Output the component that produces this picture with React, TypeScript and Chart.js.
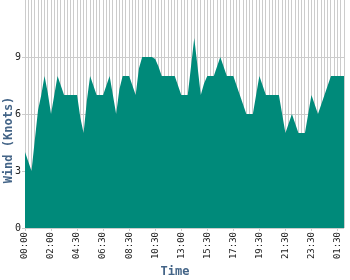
import React, { useEffect, useRef } from 'react';
import { Chart, registerables } from 'chart.js';

Chart.register(...registerables);

const timeLabels: string[] = [
  '00:00', '00:15', '00:30', '00:45', '01:00', '01:15', '01:30', '01:45',
  '02:00', '02:20', '02:40', '03:00', '03:20', '03:40', '04:00', '04:15',
  '04:30', '04:45', '05:00', '05:15', '05:30', '05:45', '06:00', '06:15',
  '06:30', '06:45', '07:00', '07:15', '07:30', '07:45', '08:00', '08:15',
  '08:30', '08:45', '09:00', '09:15', '09:30', '09:45', '10:00', '10:15',
  '10:30', '10:50', '11:10', '11:30', '11:50', '12:10', '12:30', '12:45',
  '13:00', '13:20', '13:40', '14:00', '14:20', '14:40', '15:00', '15:15',
  '15:30', '15:45', '16:00', '16:15', '16:30', '16:45', '17:00', '17:15',
  '17:30', '17:45', '18:00', '18:15', '18:30', '18:45', '19:00', '19:15',
  '19:30', '19:45', '20:00', '20:15', '20:30', '20:45', '21:00', '21:15',
  '21:30', '21:45', '22:00', '22:15', '22:30', '22:45', '23:00', '23:15',
  '23:30', '23:45', '00:00', '00:15', '00:30', '00:45', '01:00', '01:15',
  '01:30', '01:45', '02:00',
];

const windKnots: number[] = [
  4, 3.5, 3, 4.6, 6.2, 7, 8, 7.1,
  6, 7, 8, 7.5, 7, 7, 7, 7,
  7, 5.8, 5, 6.7, 8, 7.5, 7, 7,
  7, 7.5, 8, 7, 6, 7.3, 8, 8,
  8, 7.5, 7, 8.4, 9, 9, 9, 9,
  8.9, 8.5, 8, 8, 8, 8, 8, 7.5,
  7, 7, 7, 8.5, 10, 8.5, 7, 7.6,
  8, 8, 8, 8.5, 9, 8.5, 8, 8,
  8, 7.5, 7, 6.5, 6, 6, 6, 7,
  8, 7.5, 7, 7, 7, 7, 7, 6,
  5, 5.5, 6, 5.5, 5, 5, 5, 6,
  7, 6.5, 6, 6.5, 7, 7.5, 8, 8,
  8, 8, 8,
];

const yMin = 0;
const yMax = 12;
const yStep = 3;
const labelEvery = 8;
const xTitle = 'Time';
const yTitle = 'Wind (Knots)';

const fillColor = '#008a7a';
const gridColor = '#cccccc';
const tickTextColor = '#222222';
const titleColor = '#436487';
const monoFont = '"DejaVu Sans Mono", monospace';
const clear = 'rgba(0,0,0,0)';

const titlePlugin = {
  id: 'canvasAxisTitles',
  afterDraw(chart: any) {
    const { ctx, width, height } = chart;
    ctx.save();
    ctx.fillStyle = titleColor;
    ctx.font = 'bold 12px ' + monoFont;
    ctx.textAlign = 'center';
    ctx.textBaseline = 'middle';
    ctx.fillText(xTitle, width / 2, height - 8);
    ctx.translate(9, height / 2);
    ctx.rotate(-Math.PI / 2);
    ctx.fillText(yTitle, 0, 0);
    ctx.restore();
  },
};

export default function App() {
  const canvasRef = useRef<HTMLCanvasElement | null>(null);

  useEffect(() => {
    document.body.style.margin = '0';
    const canvas = canvasRef.current;
    if (!canvas) return;
    const chart = new Chart(canvas, {
      type: 'line',
      data: {
        labels: timeLabels,
        datasets: [
          {
            data: windKnots,
            backgroundColor: fillColor,
            borderColor: fillColor,
            borderWidth: 0,
            pointRadius: 0,
            tension: 0,
            fill: 'origin',
          },
        ],
      },
      options: {
        animation: false,
        responsive: false,
        devicePixelRatio: 1,
        layout: { padding: { left: 0, right: 6, top: 0, bottom: 0 } },
        plugins: {
          legend: { display: false },
          tooltip: { enabled: false },
          title: { display: false },
        },
        scales: {
          x: {
            type: 'category',
            offset: false,
            border: { display: false },
            grid: {
              color: gridColor,
              lineWidth: 1,
              drawTicks: true,
              tickLength: 3,
              tickColor: (c: any) => (c.index % labelEvery === 0 ? gridColor : clear),
            },
            ticks: {
              autoSkip: false,
              maxRotation: 90,
              minRotation: 90,
              padding: 1,
              color: tickTextColor,
              font: { family: monoFont, size: 9 },
              callback: (_v: any, i: number) => (i % labelEvery === 0 ? timeLabels[i] : ''),
            },
            afterFit: (s: any) => {
              s.height = 52;
              s.paddingLeft = 0;
              s.paddingRight = 0;
            },
          },
          y: {
            min: yMin,
            max: yMax,
            border: { display: false },
            grid: {
              color: (c: any) => (c.tick && c.tick.value === yMax ? clear : gridColor),
              tickColor: (c: any) => (c.tick && c.tick.value === yMax ? clear : gridColor),
              tickLength: 3,
            },
            ticks: {
              stepSize: yStep,
              padding: 1,
              color: tickTextColor,
              font: { family: monoFont, size: 10 },
              callback: (v: any) => (v === yMax ? '' : String(v)),
            },
            afterFit: (s: any) => {
              s.width = 25;
              s.paddingTop = 0;
              s.paddingBottom = 0;
            },
          },
        },
      },
      plugins: [titlePlugin],
    } as any);
    return () => chart.destroy();
  }, []);

  return <canvas ref={canvasRef} width={350} height={280} style={{ display: 'block' }} />;
}
